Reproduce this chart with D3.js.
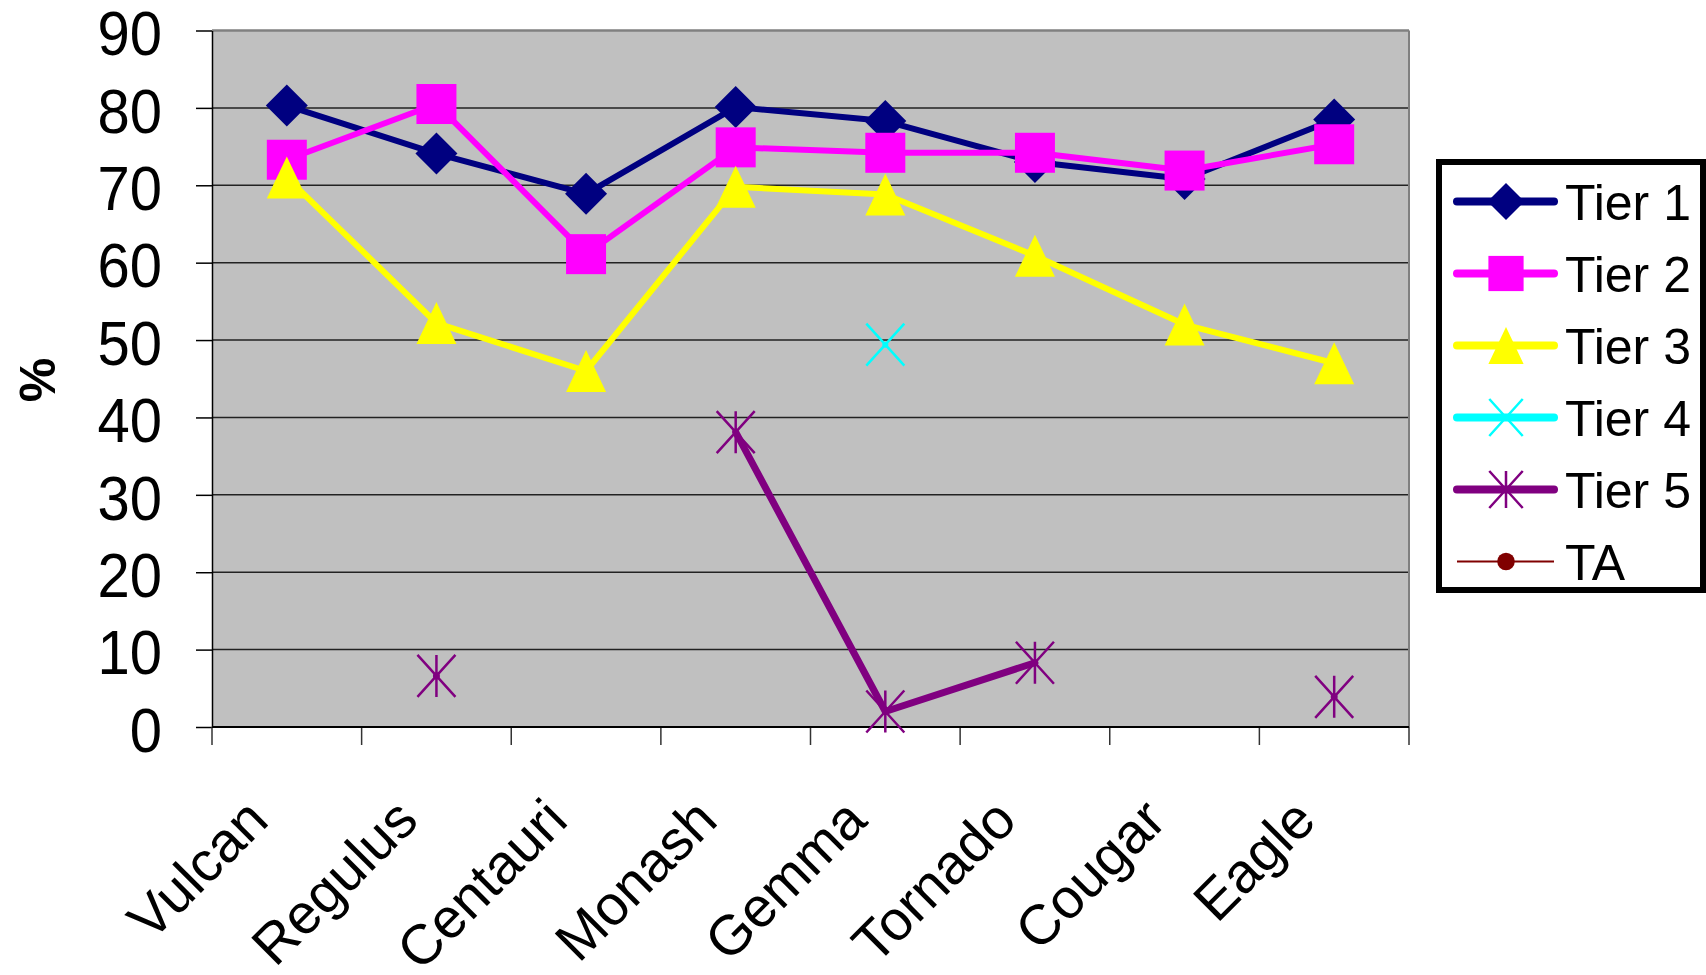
<!DOCTYPE html>
<html>
<head>
<meta charset="utf-8">
<script src="https://cdn.jsdelivr.net/npm/d3@7"></script>
<style>
  html, body { margin: 0; padding: 0; background: #fff; }
  svg { display: block; }
  text { font-family: "Liberation Sans", Arial, sans-serif; }
</style>
</head>
<body>
<svg id="chart" width="1706" height="975"></svg>
<script>
const categories = ["Vulcan", "Regulus", "Centauri", "Monash", "Gemma", "Tornado", "Cougar", "Eagle"];
const tier1 = [80.3, 74.1, 68.9, 80.1, 78.3, 73.0, 70.8, 78.5];
const tier2 = [73.3, 80.5, 61.1, 74.9, 74.2, 74.2, 71.9, 75.3];
const tier3 = [71.0, 52.2, 46.0, 69.8, 68.8, 60.9, 52.0, 47.0];
const tier4 = [null, null, null, null, 49.4, null, null, null];
const tier5 = [null, 6.6, null, 38.1, 2.0, 8.3, null, 3.9];
const ta    = [null, null, null, null, null, null, null, null];
const seriesNames = ["Tier 1", "Tier 2", "Tier 3", "Tier 4", "Tier 5", "TA"];
const yTicks = [0, 10, 20, 30, 40, 50, 60, 70, 80, 90];

const series = [
  { name: seriesNames[0], values: tier1, color: "#000080", marker: "diamond", lw: 6 },
  { name: seriesNames[1], values: tier2, color: "#FF00FF", marker: "square", lw: 6 },
  { name: seriesNames[2], values: tier3, color: "#FFFF00", marker: "triangle", lw: 6 },
  { name: seriesNames[3], values: tier4, color: "#00FFFF", marker: "x", lw: 6 },
  { name: seriesNames[4], values: tier5, color: "#800080", marker: "asterisk", lw: 7 },
  { name: seriesNames[5], values: ta, color: "#800000", marker: "circle", lw: 2 }
];

const svg = d3.select("#chart");
const plot = { left: 212, right: 1409, top: 30.5, bottom: 727 };

const x = d3.scaleBand().domain(categories).range([plot.left, plot.right]).paddingInner(0).paddingOuter(0);
const y = d3.scaleLinear().domain([0, 90]).range([plot.bottom, plot.top]);
const cx = c => x(c) + x.bandwidth() / 2;

// plot background
svg.append("rect")
  .attr("x", plot.left).attr("y", plot.top)
  .attr("width", plot.right - plot.left).attr("height", plot.bottom - plot.top)
  .attr("fill", "#C0C0C0");

// gridlines
svg.append("g").selectAll("line").data(yTicks.filter(t => t > 0 && t < 90)).join("line")
  .attr("x1", plot.left).attr("x2", plot.right)
  .attr("y1", d => y(d)).attr("y2", d => y(d))
  .attr("stroke", "#222").attr("stroke-width", 1.5);

// plot border top/right (gray)
svg.append("line").attr("x1", plot.left).attr("x2", plot.right).attr("y1", plot.top).attr("y2", plot.top)
  .attr("stroke", "#808080").attr("stroke-width", 2.5);
svg.append("line").attr("x1", plot.right).attr("x2", plot.right).attr("y1", plot.top).attr("y2", plot.bottom)
  .attr("stroke", "#808080").attr("stroke-width", 2);

// y axis
const yAxis = d3.axisLeft(y).tickValues(yTicks).tickSize(16).tickPadding(34).tickSizeOuter(0);
const gy = svg.append("g").attr("transform", `translate(${plot.left},0)`).call(yAxis);
gy.select(".domain").attr("stroke", "#000").attr("stroke-width", 1.5);
gy.selectAll(".tick line").attr("stroke", "#000").attr("stroke-width", 1.5);
gy.selectAll(".tick text").attr("font-size", 58).attr("fill", "#000")
  .attr("font-family", "'Liberation Sans', Arial, sans-serif")
  .attr("dy", null).attr("y", 0)
  .attr("transform", "translate(0,3) scale(1,1.07)")
  .attr("dominant-baseline", "central");

// x axis: ticks at category boundaries
const boundaries = categories.map(c => x(c)).concat([plot.right]);
svg.append("g").selectAll("line").data(boundaries).join("line")
  .attr("x1", d => d).attr("x2", d => d)
  .attr("y1", plot.bottom).attr("y2", plot.bottom + 18)
  .attr("stroke", "#333").attr("stroke-width", 1.5);
svg.append("line").attr("x1", plot.left).attr("x2", plot.right).attr("y1", plot.bottom).attr("y2", plot.bottom)
  .attr("stroke", "#000").attr("stroke-width", 2);

// x labels rotated
svg.append("g").selectAll("text").data(categories).join("text")
  .attr("transform", d => `translate(${cx(d) - 16},${plot.bottom + 96}) rotate(-45)`)
  .attr("text-anchor", "end")
  .attr("font-size", 56)
  .attr("fill", "#000")
  .text(d => d);

// y title
svg.append("text")
  .attr("transform", `translate(38,380) rotate(-90)`)
  .attr("text-anchor", "middle").attr("dominant-baseline", "central")
  .attr("font-size", 50).attr("font-weight", "bold")
  .text("%");

// marker drawing
function drawMarker(g, type, color, px, py, s) {
  s = s || 1;
  if (type === "diamond") {
    const h = 21 * s;
    g.append("path").attr("d", `M${px},${py - h}L${px + h},${py}L${px},${py + h}L${px - h},${py}Z`).attr("fill", color);
  } else if (type === "square") {
    const h = 20 * s;
    g.append("rect").attr("x", px - h).attr("y", py - h).attr("width", 2 * h).attr("height", 2 * h).attr("fill", color);
  } else if (type === "triangle") {
    const hw = 20 * s, hh = 21 * s;
    g.append("path").attr("d", `M${px},${py - hh}L${px + hw},${py + hh}L${px - hw},${py + hh}Z`).attr("fill", color);
  } else if (type === "x") {
    const hw = 19 * s, hh = 21 * s;
    g.append("path").attr("d", `M${px - hw},${py - hh}L${px + hw},${py + hh}M${px + hw},${py - hh}L${px - hw},${py + hh}`)
      .attr("stroke", color).attr("stroke-width", 2.5).attr("fill", "none");
  } else if (type === "asterisk") {
    const hw = 19 * s, hh = 21 * s;
    g.append("path").attr("d", `M${px - hw},${py - hh}L${px + hw},${py + hh}M${px + hw},${py - hh}L${px - hw},${py + hh}M${px},${py - hh}L${px},${py + hh}`)
      .attr("stroke", color).attr("stroke-width", 2.5).attr("fill", "none");
  } else if (type === "circle") {
    g.append("circle").attr("cx", px).attr("cy", py).attr("r", 10 * s).attr("fill", color);
  }
}

// series
const line = d3.line()
  .defined(d => d.v != null)
  .x(d => cx(d.c))
  .y(d => y(d.v));

series.forEach(s => {
  const g = svg.append("g");
  const pts = categories.map((c, i) => ({ c: c, v: s.values[i] }));
  g.append("path").datum(pts).attr("d", line)
    .attr("fill", "none").attr("stroke", s.color).attr("stroke-width", s.lw)
    .attr("stroke-linejoin", "round").attr("stroke-linecap", "round");
  pts.filter(p => p.v != null).forEach(p => drawMarker(g, s.marker, s.color, cx(p.c), y(p.v), 1));
});

// legend
const lg = svg.append("g");
lg.append("rect").attr("x", 1439).attr("y", 162).attr("width", 264).attr("height", 428)
  .attr("fill", "#fff").attr("stroke", "#000").attr("stroke-width", 6);
series.forEach((s, i) => {
  const ry = 201.5 + i * 72;
  lg.append("line").attr("x1", 1457).attr("x2", 1554).attr("y1", ry).attr("y2", ry)
    .attr("stroke", s.color).attr("stroke-width", s.lw === 2 ? 2 : 8)
    .attr("stroke-linecap", s.lw === 2 ? "butt" : "round");
  drawMarker(lg, s.marker, s.color, 1506, ry, 0.88);
  lg.append("text").attr("x", 1565).attr("y", ry).attr("dy", "0.36em")
    .attr("font-size", 50).attr("fill", "#000").text(s.name);
});
</script>
</body>
</html>
